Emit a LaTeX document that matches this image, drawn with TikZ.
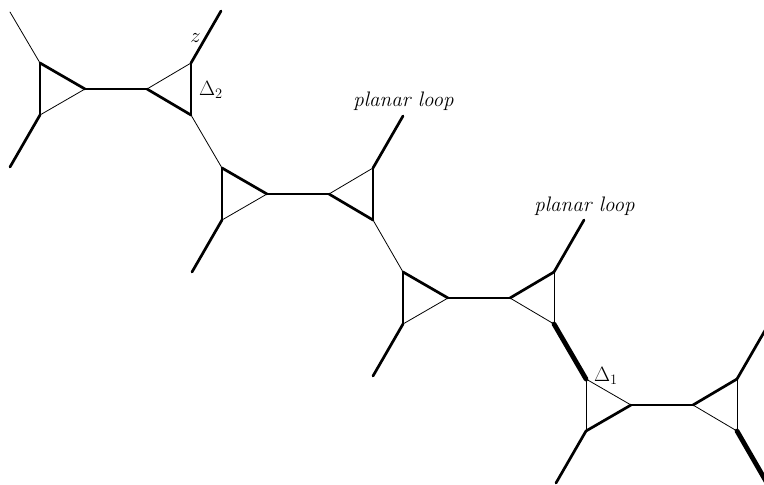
\documentclass[tikz,border=0pt]{standalone}
\begin{document}
\begin{tikzpicture}[x=1pt,y=-1pt,
  lite/.style={line width=0.8pt,line cap=round},
  bold/.style={line width=2.7pt,line cap=round},
  heavy/.style={line width=4.8pt,line cap=round},
  lbl/.style={font=\fontsize{21}{25}\selectfont,inner sep=0pt}]
\useasboundingbox (0,0) rectangle (764,485);
% unit coordinates
\foreach \n/\x/\y in {a/40/63,b/222/168,c/403/272,d/586/379}{
  \begin{scope}[shift={(\x,\y)}]
    \coordinate (\n lt) at (0,0);
    \coordinate (\n lb) at (0,52);
    \coordinate (\n lr) at (45,26);
    \coordinate (\n rl) at (107,26);
    \coordinate (\n rt) at (151,0);
    \coordinate (\n rb) at (151,52);
    \coordinate (\n legl) at (-30,104);
    \coordinate (\n legr) at (181,-52);
  \end{scope}}
\coordinate (aleg0) at (10,12);
\coordinate (dlegrb) at (181+586,104+379);
% labels
\node[lbl,anchor=base] (z) at (195.5,42) {$z$};
\node[lbl,anchor=base west] (D2) at (199,95) {$\Delta_2$};
\node[lbl,anchor=base west] (D1) at (594,381) {$\Delta_1$};
\node[lbl,anchor=base] (pl1) at (403.5,106) {\textit{planar loop}};
\node[lbl,anchor=base] (pl2) at (584.5,211) {\textit{planar loop}};
% unit a
\draw[lite] (aleg0) -- (alt);
\draw[lite] (alb) -- (alr);
\draw[lite] (arl) -- (art);
\draw[lite] (arb) -- (blt);
\draw[bold] (alt) -- (alb);
\draw[bold] (alt) -- (alr);
\draw[bold] (alb) -- (alegl);
\draw[bold] (alr) -- (arl);
\draw[bold] (arl) -- (arb);
\draw[bold] (art) -- (arb);
\draw[bold] (art) -- (alegr);
% unit b
\draw[lite] (blb) -- (blr);
\draw[lite] (brl) -- (brt);
\draw[lite] (brb) -- (clt);
\draw[bold] (blt) -- (blb);
\draw[bold] (blt) -- (blr);
\draw[bold] (blb) -- (blegl);
\draw[bold] (blr) -- (brl);
\draw[bold] (brl) -- (brb);
\draw[bold] (brt) -- (brb);
\draw[bold] (brt) -- (blegr);
% unit c
\draw[lite] (clb) -- (clr);
\draw[lite] (crl) -- (crb);
\draw[lite] (crt) -- (crb);
\draw[bold] (clt) -- (clb);
\draw[bold] (clt) -- (clr);
\draw[bold] (clb) -- (clegl);
\draw[bold] (clr) -- (crl);
\draw[bold] (crl) -- (crt);
\draw[bold] (crt) -- (clegr);
\draw[heavy] (crb) -- (dlt);
% unit d
\draw[lite] (dlt) -- (dlb);
\draw[lite] (dlt) -- (dlr);
\draw[lite] (drl) -- (drb);
\draw[lite] (drt) -- (drb);
\draw[bold] (dlb) -- (dlr);
\draw[bold] (dlb) -- (dlegl);
\draw[bold] (dlr) -- (drl);
\draw[bold] (drl) -- (drt);
\draw[bold] (drt) -- (dlegr);
\draw[heavy] (drb) -- (dlegrb);
\end{tikzpicture}
\end{document}
